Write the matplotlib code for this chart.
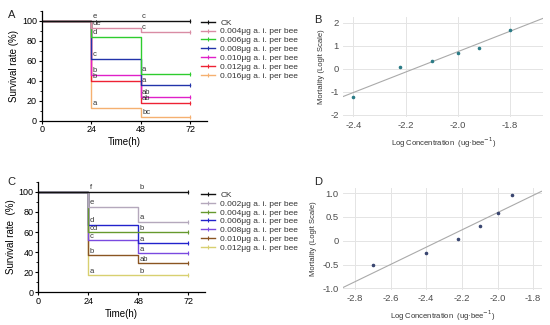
import matplotlib
matplotlib.use("Agg")
import matplotlib.pyplot as plt
from matplotlib.ticker import MultipleLocator
import numpy as np

plt.rcParams['font.family'] = ['Liberation Sans', 'DejaVu Sans']

# survival data: times and survival (%) at 0-24, 24-48, 48-72 h
times = [0, 24, 48, 72]

a_labels = ["CK", "0.004μg a. i. per bee", "0.006μg a. i. per bee", "0.008μg a. i. per bee",
            "0.010μg a. i. per bee", "0.012μg a. i. per bee", "0.016μg a. i. per bee"]
a_surv24 = [100, 93, 84, 62, 46, 40, 13]
a_surv48 = [100, 89, 47, 36, 24, 18, 4]
a_let24 = ["e", "de", "d", "c", "b", "b", "a"]
a_let48 = ["c", "c", "a", "a", "ab", "ab", "bc"]
a_colors = ["#111111", "#d98ca4", "#2ecc2e", "#2233aa", "#e020c8", "#ee2233", "#f5b070"]

c_labels = ["CK", "0.002μg a. i. per bee", "0.004μg a. i. per bee", "0.006μg a. i. per bee",
            "0.008μg a. i. per bee", "0.010μg a. i. per bee", "0.012μg a. i. per bee"]
c_surv24 = [100, 85, 60, 67, 52, 37, 17]
c_surv48 = [100, 70, 60, 49, 39, 29, 17]
c_let24 = ["f", "e", "cd", "d", "c", "b", "a"]
c_let48 = ["b", "a", "b", "a", "a", "ab", "b"]
c_colors = ["#111111", "#b4a8bc", "#66992e", "#2222cc", "#7a4ae0", "#8a5522", "#d8d070"]

# log-probit data
b_logc = [-2.4, -2.22, -2.1, -2.0, -1.92, -1.8]
b_logit = [-1.22, 0.08, 0.35, 0.70, 0.92, 1.68]
d_logc = [-2.7, -2.4, -2.22, -2.1, -2.0, -1.92]
d_logit = [-0.52, -0.26, 0.04, 0.30, 0.58, 0.97]

fig = plt.figure(figsize=(5.5, 3.25), dpi=100)


def survival_panel(rect, labels, s24, s48, let24, let48, colors, legend_top, yl_text):
    ax = fig.add_axes(rect)
    handles = []
    for i in range(len(labels) - 1, -1, -1):
        vals = [100, s24[i], s48[i], s48[i]]
        ln, = ax.step(times, vals, where='post', color=colors[i], lw=1.0,
                      marker='|', markevery=[3], ms=3, mew=0.8, zorder=2 + (len(labels) - i) * 0.01)
        handles.append(ln)
        ax.text(24.6, s24[i] + 0.5, let24[i], fontsize=5.5, color='#333333', va='bottom', ha='left')
        ax.text(48.6, s48[i] + 0.5, let48[i], fontsize=5.5, color='#333333', va='bottom', ha='left')
    handles = handles[::-1]
    ax.set_xlim(0, 80)
    ax.set_ylim(0, 110)
    ax.set_xticks([0, 24, 48, 72])
    ax.set_yticks([0, 20, 40, 60, 80, 100])
    ax.yaxis.set_minor_locator(MultipleLocator(10))
    ax.spines['top'].set_visible(False)
    ax.spines['right'].set_visible(False)
    ax.spines['left'].set_linewidth(0.9)
    ax.spines['bottom'].set_linewidth(0.9)
    ax.tick_params(labelsize=6.5, length=2.5, width=0.8, pad=1)
    ax.tick_params(which='minor', length=1.5, width=0.6)
    ax.set_xlabel("Time(h)", fontsize=7, labelpad=2)
    ax.set_ylabel(yl_text, fontsize=7, labelpad=2)
    fig.legend(handles, labels, loc='upper left', bbox_to_anchor=(0.358, legend_top),
               frameon=False, fontsize=6, handlelength=1.7, handletextpad=0.6,
               labelspacing=0.12, borderpad=0, numpoints=1, labelcolor='#333333')
    return ax


def probit_panel(rect, x, y, xlim, ylim, xticks, yticks, yticklabels, pcolor):
    ax = fig.add_axes(rect)
    ax.set_xlim(*xlim)
    ax.set_ylim(*ylim)
    for s in ax.spines.values():
        s.set_visible(False)
    ax.grid(True, color='#e4e4e4', lw=0.7)
    ax.set_axisbelow(True)
    k, b = np.polyfit(x, y, 1)
    xx = np.array(xlim)
    ax.plot(xx, k * xx + b, color='#aaaaaa', lw=0.8, zorder=2)
    ax.scatter(x, y, s=2.5, color=pcolor, zorder=3)
    ax.set_xticks(xticks)
    ax.set_xticklabels([f"{t:.1f}" for t in xticks])
    ax.set_yticks(yticks)
    ax.set_yticklabels(yticklabels)
    ax.tick_params(length=0, labelsize=6.8, labelcolor='#4d4d4d', pad=3)
    ax.set_xlabel("Log Concentration  (ug·bee$^{-1}$)", fontsize=5.5, color='#333333', labelpad=4)
    ax.set_ylabel("Mortality (Logit Scale)", fontsize=5.5, color='#333333', labelpad=4)
    return ax


survival_panel([0.0758, 0.629, 0.3005, 0.338], a_labels, a_surv24, a_surv48,
               a_let24, a_let48, a_colors, 0.955, "Survival rate (%)")
survival_panel([0.0697, 0.1006, 0.303, 0.340], c_labels, c_surv24, c_surv48,
               c_let24, c_let48, c_colors, 0.425, "Survival rate  (%)")

probit_panel([0.6236, 0.640, 0.364, 0.308], b_logc, b_logit, (-2.44, -1.673), (-2.09, 2.25),
             [-2.4, -2.2, -2.0, -1.8], [-2, -1, 0, 1, 2], ["-2", "-1", "0", "1", "2"], '#2b7b86')
probit_panel([0.6236, 0.1077, 0.361, 0.314], d_logc, d_logit, (-2.867, -1.753), (-1.036, 1.11),
             [-2.8, -2.6, -2.4, -2.2, -2.0, -1.8], [-1.0, -0.5, 0, 0.5, 1.0],
             ["-1.0", "-0.5", "0", "0.5", "1.0"], '#3a4670')

for lab, x, y in [("A", 0.014, 0.97), ("B", 0.572, 0.955), ("C", 0.014, 0.455), ("D", 0.572, 0.455)]:
    fig.text(x, y, lab, fontsize=8, color='#222222', va='top')

fig.savefig("out.png", dpi=100)
